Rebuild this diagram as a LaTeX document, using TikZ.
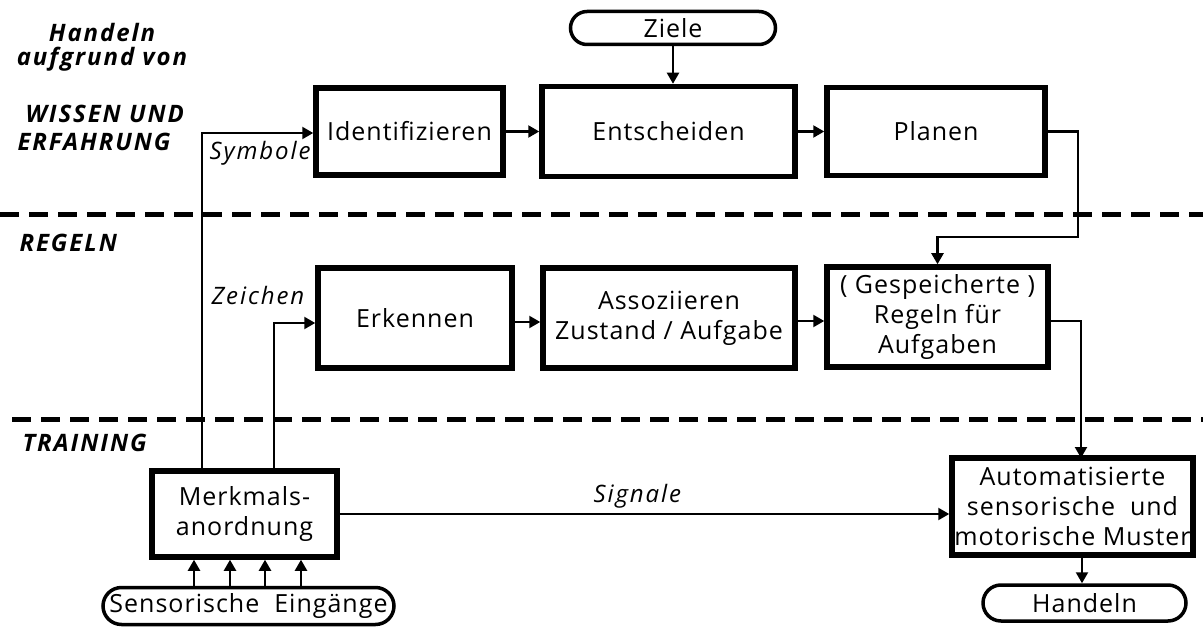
\documentclass[tikz,border=0pt]{standalone}
\usepackage{fontspec}
\setmainfont{Open Sans}
\usetikzlibrary{arrows.meta,shapes.misc}
\newcommand{\boxfont}{\fontsize{25}{30}\selectfont\addfontfeature{LetterSpace=4}}
\newcommand{\lblfont}{\fontsize{24}{29}\selectfont\itshape\addfontfeature{LetterSpace=8}}
\begin{document}
\begin{tikzpicture}[x=1pt,y=-1pt,
  box/.style={draw,line width=5.5pt,rectangle,inner sep=0pt,align=center,font=\boxfont},
  term/.style={draw,line width=3.5pt,rounded rectangle,inner sep=0pt,align=center,font=\boxfont},
  conn/.style={line width=2.2pt},
  arr/.style={conn,-{Triangle[length=11pt,width=12pt]}},
  level/.style={line width=5pt,dash pattern=on 19pt off 10pt},
  lvl/.style={align=center,font=\lblfont\bfseries},
  flow/.style={font=\lblfont}]
\useasboundingbox (0,0) rectangle (1203,631);

% level separators
\draw[level] (0,215) -- (1203,215);
\draw[level] (12,419) -- (1203,419);

% level labels
\node[lvl,anchor=north] (hdl) at (102,20) {Handeln\\[-5pt]aufgrund von};
\node[lvl,anchor=north west,align=left] (wis) at (16,102) {\hspace*{6pt}WISSEN UND\\[-1pt]\hspace*{-2pt}ERFAHRUNG};
\node[lvl,anchor=base west] (reg) at (16,252) {REGELN};
\node[lvl,anchor=base west] (trn) at (19,451) {TRAINING};

% knowledge level
\node[term,minimum width=205pt,minimum height=33pt] (ziele) at (673,28) {Ziele};
\node[box,minimum width=187pt,minimum height=87pt] (ident) at (409.5,131.5) {Identifizieren};
\node[box,minimum width=253pt,minimum height=90pt] (ent) at (668.5,131.5) {Entscheiden};
\node[box,minimum width=218pt,minimum height=88pt] (plan) at (936,131.5) {Planen};

% rule level
\node[box,minimum width=194pt,minimum height=100pt] (erk) at (415,318) {Erkennen};
\node[box,minimum width=252pt,minimum height=100pt] (ass) at (669,318) {Assoziieren\\Zustand / Aufgabe};
\node[box,minimum width=221pt,minimum height=100pt] (rule) at (937.5,317) {( Gespeicherte )\\Regeln für\\Aufgaben};

% skill level
\node[box,minimum width=185pt,minimum height=86pt] (merk) at (244.5,514) {Merkmals-\\anordnung};
\node[box,minimum width=241pt,minimum height=97pt] (auto) at (1072.5,506.5) {Automatisierte\\sensorische \ und\\motorische Muster};
\node[term,minimum width=291pt,minimum height=37pt] (sens) at (248.5,606) {Sensorische \ Eingänge};
\node[term,minimum width=203pt,minimum height=36pt] (hand) at (1084.5,603) {Handeln};

% connectors
\draw[arr] (ziele.south) -- (ziele.south |- ent.north);
\draw[arr] (ident.east) -- (ent.west);
\draw[arr] (ent.east) -- (plan.west);
\coordinate (pbend) at (1078,237);
\draw[arr] (plan.east) -| (pbend) -| (rule.north);
\draw[arr] (erk.east |- 0,322) -- (ass.west |- 0,322);
\draw[arr] (ass.east |- 0,321) -- (rule.west |- 0,321);
\coordinate (rbend) at (1081,321);
\coordinate (atop) at (1081,458);
\draw[arr] (rule.east |- rbend) -- (rbend) -- (atop);
\coordinate (abot) at (1082,555);
\draw[arr] (abot) -- (abot |- hand.north);
\draw[arr] (merk.east |- 0,514) -- (auto.west |- 0,514);
\coordinate (sym) at (202,471);
\coordinate (zei) at (274,471);
\draw[arr] (sym) |- (ident.west |- 0,133);
\draw[arr] (zei) |- (erk.west |- 0,323);
\foreach \x/\n in {194/a,230/b,265/c,301/d}{
  \coordinate (s\n) at (\x,588);
  \draw[arr] (s\n) -- (s\n |- merk.south);
}

% flow labels
\node[flow,anchor=base west] (lsym) at (206,160) {Symbole};
\node[flow,anchor=base west] (lzei) at (208,305) {Zeichen};
\node[flow,anchor=base west] (lsig) at (590,502) {Signale};
\end{tikzpicture}
\end{document}
